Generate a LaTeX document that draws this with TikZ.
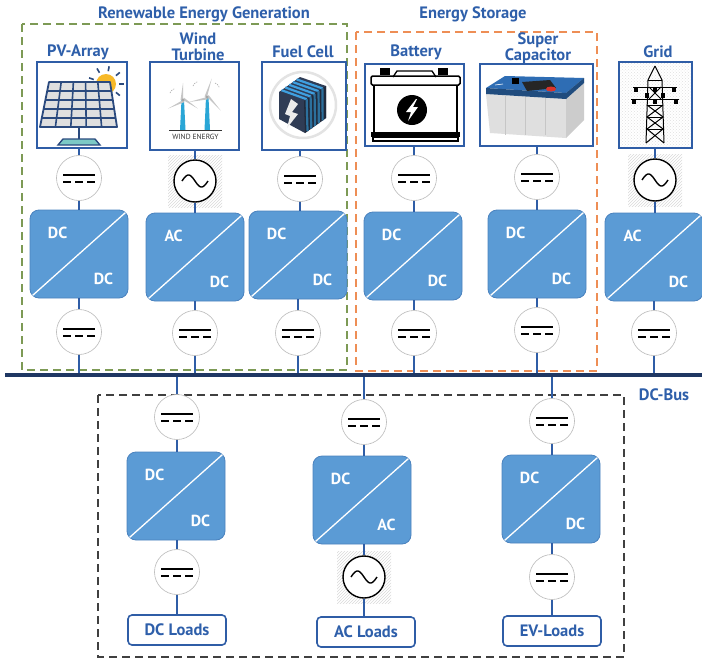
\documentclass[tikz,border=0pt]{standalone}
\usepackage{fontspec}
\setmainfont{PT Sans}
\usetikzlibrary{patterns}
\definecolor{txtblue}{HTML}{2E5FAA}
\definecolor{convfill}{HTML}{5B9BD5}
\definecolor{convedge}{HTML}{4A82BE}
\definecolor{busblue}{HTML}{1F3763}
\definecolor{wireblue}{HTML}{2F5DA6}
\definecolor{gdash}{HTML}{7D9A55}
\definecolor{odash}{HTML}{EE8E55}
\definecolor{navy}{HTML}{2B4A7E}
\definecolor{sunyellow}{HTML}{F7B928}
\definecolor{teal}{HTML}{7CC9C5}
\definecolor{towercyan}{HTML}{2AA6D6}
\definecolor{cubedark}{HTML}{2F3C55}
\definecolor{stripe}{HTML}{3FA0E0}
\definecolor{capblue}{HTML}{2E6DB4}
\definecolor{capred}{HTML}{D9342B}

% DC symbol: circle with a solid and a dashed bar
\newcommand\dcsymbol[3]{%
  \node[dcsym] (#1) at (#2,#3) {};
  \draw[line width=1.8pt] (#2-16,#3-3) -- (#2+16,#3-3);
  \draw[line width=1.8pt, dash pattern=on 8pt off 4pt] (#2-16,#3+4) -- (#2+17,#3+4);
}
% AC symbol: sine wave in a black circle on a hatched patch
\newcommand\acsymbol[3]{%
  \fill[pattern=north east lines, pattern color=gray!30] (#2-27,#3-26) rectangle (#2+27,#3+26);
  \node[acsym] (#1) at (#2,#3) {};
  \draw[line width=1.4pt] plot[domain=-1:1, samples=40] ({#2+13*\x},{#3+6*sin(180*\x)});
}
% converter block with diagonal split and two labels
\newcommand\converter[5]{%
  \node[conv] (#1) at (#2,#3) {};
  \draw[white, line width=1.3pt] ([shift={(3,-3)}]#1.south west) -- ([shift={(-3,3)}]#1.north east);
  \node[clab] at ([shift={(28,23)}]#1.north west) {#4};
  \node[clab] at ([shift={(-25,-20)}]#1.south east) {#5};
}

\begin{document}
\begin{tikzpicture}[x=1pt,y=-1pt,
  heading/.style={font=\bfseries\fontsize{16.5}{14.5}\selectfont, text=txtblue, inner sep=0, align=center},
  conv/.style={draw=convedge, fill=convfill, rounded corners=9pt, minimum width=98pt, minimum height=88pt, line width=0.8pt},
  clab/.style={font=\bfseries\fontsize{16}{16}\selectfont, text=white, inner sep=0},
  dcsym/.style={circle, draw=gray!55, fill=white, minimum size=45pt, inner sep=0, line width=0.6pt},
  acsym/.style={circle, draw=black, line width=1.4pt, fill=white, minimum size=42pt, inner sep=0},
  imgbox/.style={draw=wireblue, line width=1.6pt, fill=white, inner sep=0},
  wire/.style={wireblue, line width=1.8pt},
  loadbox/.style={draw=wireblue, line width=1.6pt, fill=white, rounded corners=4pt, minimum width=98pt, minimum height=30pt, inner sep=0, font=\bfseries\fontsize{16.5}{14}\selectfont, text=txtblue},
  frame/.style={line width=1.2pt, dash pattern=on 8pt off 5pt}
]
\useasboundingbox (0,0) rectangle (702,659);

% group frames
\draw[frame, gdash] (22,24) rectangle (347,370);
\draw[frame, odash] (356,32) rectangle (597,371);
\draw[frame, black!75] (98,395) rectangle (624,657);

% headings
\node[heading] (tgen) at (204,14) {Renewable Energy Generation};
\node[heading] (tsto) at (473,14) {Energy Storage};
\node[heading] (tbus) at (664,395) {DC-Bus};
\node[heading] (lpv) at (78,52) {PV-Array};
\node[heading] (lwindA) at (198,39) {Wind};
\node[heading] (lwindB) at (198,55) {Turbine};
\node[heading] (lfuel) at (303,52) {Fuel Cell};
\node[heading] (lbatt) at (416,52) {Battery};
\node[heading] (lsc) at (538,48.5) {Super\\Capacitor};
\node[heading] (lgrid) at (658,52) {Grid};

% DC bus
\coordinate (busL) at (5,375);
\coordinate (busR) at (702,375);

% ---------- PV array ----------
\node[imgbox, minimum width=90pt, minimum height=86pt] (pvimg) at (82,105) {};
\fill[sunyellow] (106,84) circle (10);
\foreach \a in {-160,-120,-80,-40,0,40}
  \draw[navy, line width=1.6pt] ({106+13*cos(\a)},{84+13*sin(\a)}) -- ({106+18*cos(\a)},{84+18*sin(\a)});
\filldraw[fill=gray!25, draw=navy, line width=1.8pt, line join=round] (49,82) -- (110,82) -- (117,127) -- (40,127) -- cycle;
\foreach \i in {1,...,4} {
  \draw[navy, line width=1.6pt] ({49+61*\i/5},82) -- ({40+77*\i/5},127);
  \draw[navy, line width=1.6pt] ({49-9*\i/5},{82+45*\i/5}) -- ({110+7*\i/5},{82+45*\i/5});
}
\draw[navy, line width=1.6pt] (79,127) -- (79,139);
\filldraw[fill=teal, draw=navy, line width=1.4pt] (63,139) -- (95,139) -- (100,145) -- (58,145) -- cycle;

% ---------- wind turbine ----------
\node[imgbox, minimum width=89pt, minimum height=88pt] (windimg) at (194.5,106) {};
\fill[towercyan] (181.5,100) -- (184,100) -- (185.5,130) -- (180,130) -- cycle;
\fill[towercyan] (206,97) -- (208.5,97) -- (210,130) -- (204.5,130) -- cycle;
\foreach \cx/\cy/\r/\o in {183/100/17/-95, 207/97/19/-80} {
  \foreach \k in {0,120,240}
    \fill[gray!45] (\cx,\cy) -- ({\cx+\r*cos(\o+\k)+1.5*cos(\o+\k+90)},{\cy+\r*sin(\o+\k)+1.5*sin(\o+\k+90)}) -- ({\cx+2.5*cos(\o+\k-90)},{\cy+2.5*sin(\o+\k-90)}) -- cycle;
  \fill[gray!70] (\cx,\cy) circle (1.6);
}
\draw[gray!60, dash pattern=on 1.5pt off 1pt, line width=0.6pt] (170,93) arc (200:250:7);
\draw[gray!60, dash pattern=on 1.5pt off 1pt, line width=0.6pt] (193,86) arc (200:250:7);
\draw[gray!60, dash pattern=on 1.5pt off 1pt, line width=0.6pt] (215,83) arc (-70:-20:7);
\draw[black!80, line width=0.9pt] (169,130) -- (222,130);
\node[font=\fontsize{7.5}{8}\selectfont, text=black!80, inner sep=0] (windtxt) at (195.5,137) {WIND ENERGY};

% ---------- fuel cell ----------
\node[imgbox, minimum width=84pt, minimum height=88pt] (fuelimg) at (304,106) {};
\draw[gray!22, line width=2.5pt] (303,105) circle (33);
\fill[cubedark] (279,92) -- (300,77) -- (326,86) -- (326,118) -- (305,133) -- (279,119) -- cycle;
\fill[black!30!cubedark] (304,101) -- (326,86) -- (326,118) -- (305,133) -- cycle;
\foreach \t in {0.12,0.3,0.48,0.66,0.84} {
  \draw[stripe, line width=2.2pt] ({279+21*\t},{92-15*\t}) -- ({304+22*\t},{101-15*\t});
  \draw[stripe!70!black, line width=2.2pt] ({304+22*\t},{101-15*\t}) -- ({305+21*\t},{133-15*\t});
}
\fill[white!85!gray] (291,99) -- (298,104) -- (292,112) -- (298,114) -- (287,128) -- (290,116) -- (285,114) -- cycle;

% ---------- battery ----------
\node[imgbox, minimum width=99pt, minimum height=82pt] (battimg) at (414.5,105) {};
\fill[black] (380,68) rectangle (390,75);
\fill[black] (438,68) rectangle (448,75);
\draw[black, line width=1.3pt] (393,77) -- (397,71) -- (432,71) -- (436,77);
\draw[black, line width=1.5pt, rounded corners=1.5pt] (371,76) rectangle (460,85);
\draw[black, line width=1.5pt] (374,85) -- (374,133) (457,85) -- (457,133);
\fill[black] (371,132) rectangle (460,137);
\draw[black, line width=1.2pt] (373,137) rectangle (458,141);
\fill[black] (412,110) circle (15);
\fill[white] (416,99) -- (406,112) -- (411,112) -- (408,121) -- (418,107) -- (413,107) -- (417,99) -- cycle;

% ---------- super capacitor ----------
\node[imgbox, minimum width=113pt, minimum height=82pt] (scimg) at (536.5,105) {};
\fill[gray!25] (486,94) -- (566,99) -- (566,138) -- (490,133) -- cycle;
\fill[gray!40] (566,93) -- (584,78) -- (584,120) -- (566,138) -- cycle;
\foreach \u in {505,525,545}
  \draw[gray!45, line width=0.5pt] (\u,96) -- (\u,135);
\fill[capblue] (486,88) -- (505,76) -- (584,78) -- (566,93) -- cycle;
\fill[capblue!70!black] (486,88) -- (566,93) -- (566,99) -- (486,94) -- cycle;
\fill[capblue!70!black] (566,93) -- (584,78) -- (584,83) -- (566,99) -- cycle;
\fill[black!85] (522,82) -- (550,80) -- (556,88) -- (527,91) -- cycle;
\fill[black] (512,78) rectangle (519,84);
\fill[capred] (551,89) ellipse (5 and 2.5);
\draw[white, line width=0.6pt] (495,85) -- (503,84);

% ---------- grid ----------
\node[imgbox, minimum width=73pt, minimum height=86pt, pattern=crosshatch dots, pattern color=gray!25] (gridimg) at (655.5,105) {};
\begin{scope}[black, line width=1pt]
  \draw (655,66) -- (648,80) -- (646,143) (655,66) -- (662,80) -- (664,143);
  \draw (648,80) -- (662,80);
  \draw (633,87) -- (677,87) (631,99) -- (679,99);
  \draw (649,87) -- (661,99) (661,87) -- (649,99);
  \draw (647,105) -- (663,117) -- (647,129) -- (664,143) (663,105) -- (647,117) -- (663,129) -- (646,143);
  \draw (647,105) -- (663,105) (647,117) -- (663,117) (647,129) -- (663,129);
\end{scope}
\foreach \ix/\iy in {636/87, 674/87, 634/99, 676/99, 655/99, 655/87, 647/93, 663/93}
  \fill[black] (\ix-2,\iy) rectangle (\ix+2,\iy+5);

% ---------- source conversion chains ----------
\dcsymbol{pvc1}{79}{178}
\converter{pvconv}{79}{254}{DC}{DC}
\dcsymbol{pvc2}{79}{332}
\coordinate (pvbus) at (79,375);

\acsymbol{windc1}{195}{181}
\converter{windconv}{195}{257}{AC}{DC}
\dcsymbol{windc2}{195}{333}
\coordinate (windbus) at (195,375);

\dcsymbol{fuelc1}{300}{179}
\converter{fuelconv}{298}{255}{DC}{DC}
\dcsymbol{fuelc2}{298}{333}
\coordinate (fuelbus) at (298,375);

\dcsymbol{battc1}{414}{178}
\converter{battconv}{413}{256}{DC}{DC}
\dcsymbol{battc2}{414}{333}
\coordinate (battbus) at (414,375);

\dcsymbol{scc1}{537}{177}
\converter{scconv}{537}{254}{DC}{DC}
\dcsymbol{scc2}{537}{330}
\coordinate (scbus) at (537,375);

\acsymbol{gridc1}{655}{180}
\converter{gridconv}{654}{257}{AC}{DC}
\dcsymbol{gridc2}{654}{333}
\coordinate (gridbus) at (654,375);

% ---------- load conversion chains ----------
\coordinate (dcbus) at (177,375);
\dcsymbol{dcc1}{177}{417}
\converter{dcconv}{176}{496}{DC}{DC}
\dcsymbol{dcc2}{177}{572}
\node[loadbox] (dcload) at (177,630) {DC Loads};

\coordinate (acbus) at (364,375);
\dcsymbol{acc1}{364}{422}
\converter{acconv}{362}{500}{DC}{AC}
\acsymbol{acc2}{364}{577}
\node[loadbox] (acload) at (366,632) {AC Loads};

\coordinate (evbus) at (552,375);
\dcsymbol{evc1}{552}{421}
\converter{evconv}{551}{499}{DC}{DC}
\dcsymbol{evc2}{552}{577}
\node[loadbox] (evload) at (552,631) {EV-Loads};

% ---------- wires ----------
\foreach \s in {pv,wind,fuel,batt,sc,grid}
  \draw[wire] (\s c1 |- \s img.south) -- (\s c1)
              (\s c1) -- (\s c1 |- \s conv.north)
              (\s c2 |- \s conv.south) -- (\s c2)
              (\s c2) -- (\s bus);
\foreach \s/\l in {dc/dcload,ac/acload,ev/evload}
  \draw[wire] (\s bus) -- (\s c1)
              (\s c1) -- (\s c1 |- \s conv.north)
              (\s c2 |- \s conv.south) -- (\s c2)
              (\s c2) -- (\s c2 |- \l.north);

% bus bar on top of the taps
\draw[busblue, line width=3.5pt] (busL) -- (busR);
\end{tikzpicture}
\end{document}
